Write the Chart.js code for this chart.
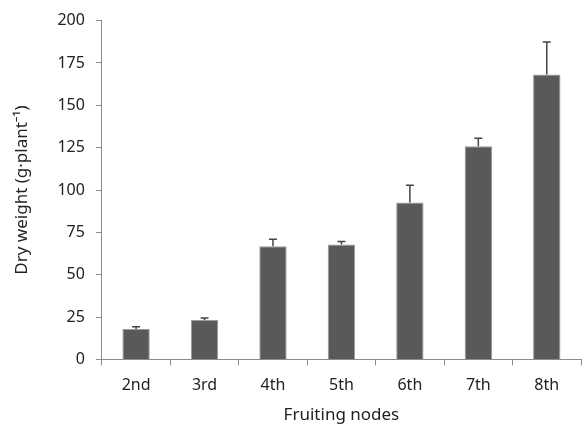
<!DOCTYPE html>
<html>
<head>
<meta charset="utf-8">
<script src="https://cdn.jsdelivr.net/npm/chart.js@4"></script>
<style>
  html, body { margin: 0; padding: 0; background: #fff; }
  #wrap { width: 584px; height: 425px; }
</style>
</head>
<body>
<div id="wrap"><canvas id="dryChart" width="584" height="425"></canvas></div>
<script>
const nodes = ['2nd', '3rd', '4th', '5th', '6th', '7th', '8th'];
const dryWeight = [18.0, 23.3, 66.8, 67.9, 92.6, 125.9, 168.2];
const errUp = [1.3, 1.2, 4.2, 1.7, 10.2, 4.7, 19.1];
const yTicks = [0, 25, 50, 75, 100, 125, 150, 175, 200];

// upper error bars, drawn through the chart's own scales
const errorBars = {
  id: 'errorBars',
  afterDatasetsDraw(chart) {
    const ctx = chart.ctx;
    const x = chart.scales.x, y = chart.scales.y;
    ctx.save();
    ctx.strokeStyle = '#454545';
    ctx.lineWidth = 1.5;
    dryWeight.forEach((v, i) => {
      const px = x.getPixelForValue(i);
      const top = y.getPixelForValue(v);
      const hi = y.getPixelForValue(v + errUp[i]);
      ctx.beginPath();
      ctx.moveTo(px, top);
      ctx.lineTo(px, hi);
      ctx.moveTo(px - 4, hi);
      ctx.lineTo(px + 4, hi);
      ctx.stroke();
    });
    ctx.restore();
  }
};

const font = { family: "'Noto Sans', 'Open Sans', sans-serif", size: 16 };
const titleFont = { family: font.family, size: 17 };

new Chart(document.getElementById('dryChart'), {
  type: 'bar',
  data: {
    labels: nodes,
    datasets: [{
      data: dryWeight,
      backgroundColor: '#595959',
      borderColor: '#9a9a9a',
      borderWidth: 1,
      barPercentage: 0.4,
      categoryPercentage: 1
    }]
  },
  options: {
    responsive: false,
    animation: false,
    layout: { padding: { left: 8, right: 3, top: 4, bottom: 0 } },
    plugins: { legend: { display: false }, tooltip: { enabled: false } },
    scales: {
      x: {
        grid: { drawOnChartArea: false, drawTicks: true, tickLength: 6, color: '#8c8c8c' },
        border: { color: '#8c8c8c' },
        ticks: { color: '#222', font: font, padding: 10 },
        title: { display: true, text: 'Fruiting nodes', color: '#222', font: titleFont, padding: { top: 0, bottom: 0 } }
      },
      y: {
        min: 0, max: 200,
        afterBuildTicks(scale) { scale.ticks = yTicks.map(v => ({ value: v })); },
        grid: { drawOnChartArea: false, drawTicks: true, tickLength: 6, color: '#8c8c8c' },
        border: { color: '#8c8c8c' },
        ticks: { color: '#222', font: font, padding: 11 },
        title: { display: true, text: 'Dry weight (g·plant⁻¹)', color: '#222', font: titleFont, padding: { bottom: 14 } }
      }
    }
  },
  plugins: [errorBars]
});
</script>
</body>
</html>
